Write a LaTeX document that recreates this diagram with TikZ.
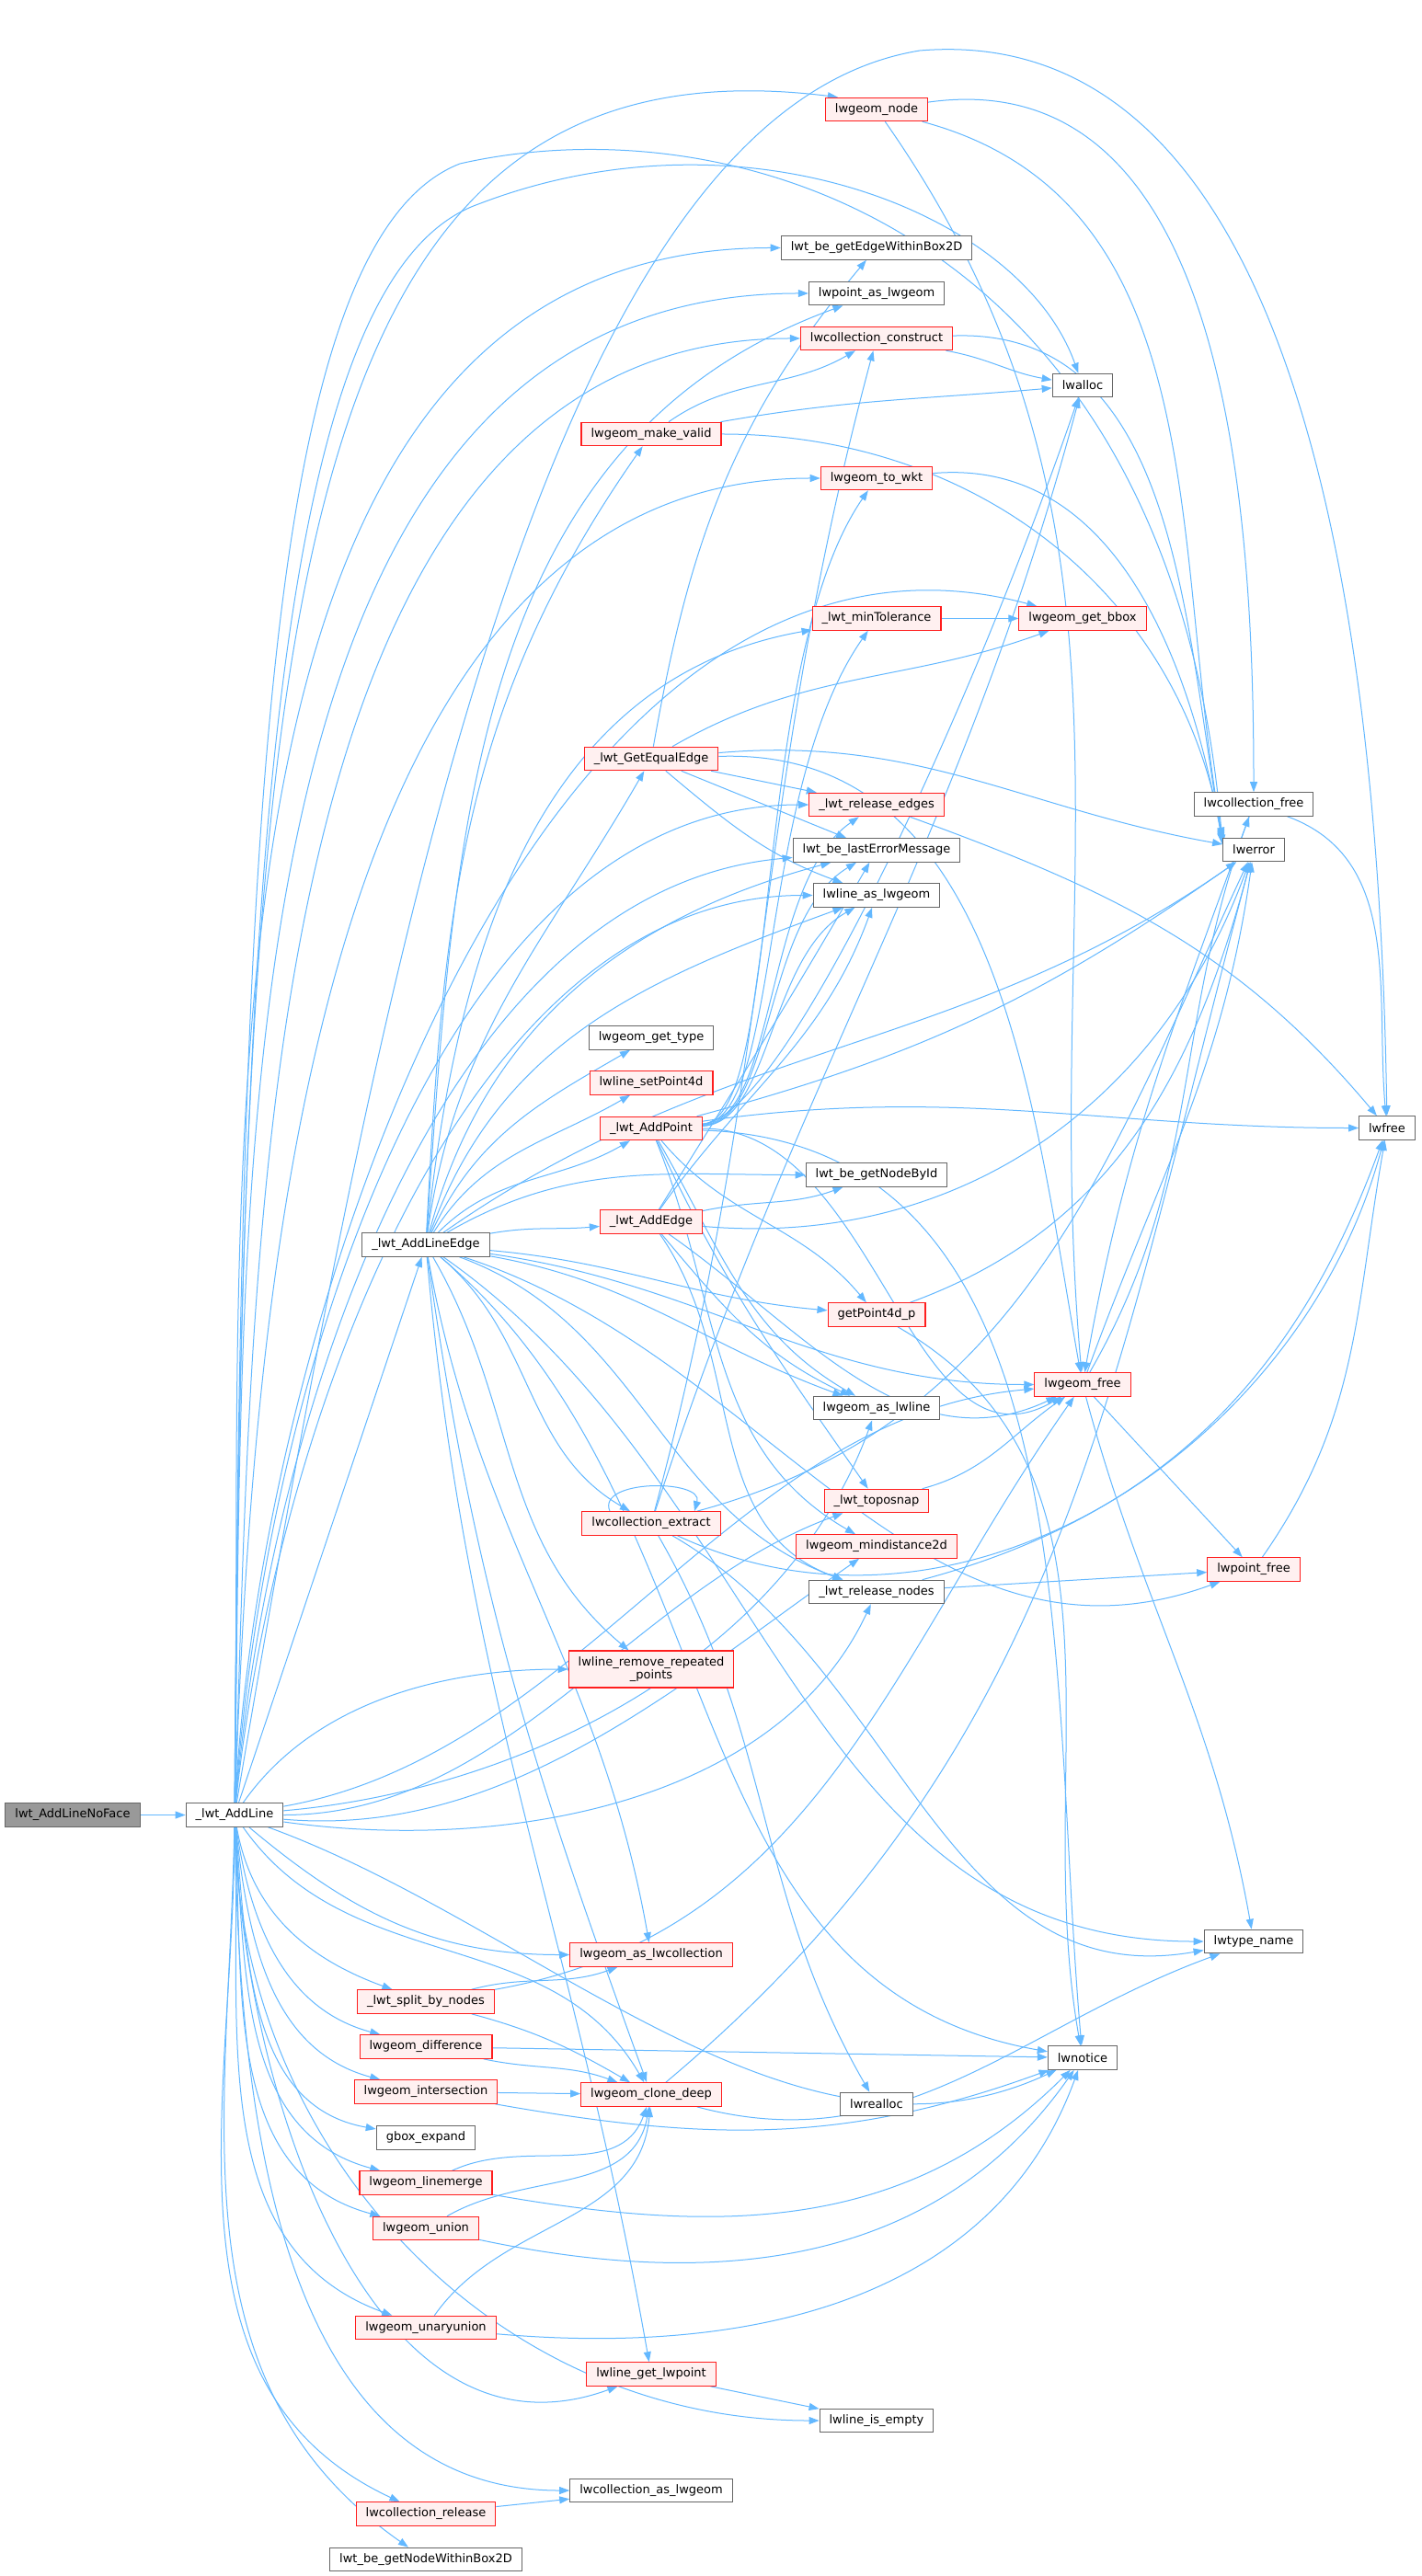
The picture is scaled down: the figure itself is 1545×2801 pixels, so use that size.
\documentclass[tikz,border=0pt]{standalone}
\usepackage{fontspec}
\setmainfont{DejaVu Sans}
\usetikzlibrary{arrows.meta}
\definecolor{ecol}{RGB}{99,184,255}
\definecolor{gborder}{RGB}{102,102,102}
\definecolor{rborder}{RGB}{255,30,30}
\definecolor{rfill}{RGB}{255,240,240}
\definecolor{rootfill}{RGB}{153,153,153}
\pgfdeclarelayer{bg}
\pgfsetlayers{bg,main}
\tikzset{
  nb/.style={draw=gborder, fill=white, line width=0.28pt, minimum height=6.375pt,
    inner xsep=2.625pt, inner ysep=0.5pt, font=\fontsize{3.25}{3.75}\selectfont},
  rb/.style={nb, draw=rborder, fill=rfill},
  rootb/.style={nb, fill=rootfill},
  e/.style={draw=ecol, line width=0.25pt, -{Triangle[length=2.75pt,width=2pt]}},
}
\begin{document}
\begin{tikzpicture}[x=0.25pt,y=-0.25pt]
\useasboundingbox (0,0) rectangle (1545,2801);
% ---------- nodes ----------
\node[rootb] (noface) at (79,1973.5) {lwt\_AddLineNoFace};
\node[nb] (A) at (255,1973.5) {\_lwt\_AddLine};
% rank 2
\node[nb] (E) at (463,1353.5) {\_lwt\_AddLineEdge};
\node[rb] (split) at (463,2176.5) {\_lwt\_split\_by\_nodes};
\node[rb] (diff) at (463,2225.5) {lwgeom\_difference};
\node[rb] (inter) at (463,2274.5) {lwgeom\_intersection};
\node[nb] (gbox) at (463,2324.5) {gbox\_expand};
\node[rb] (lmerge) at (463,2373.5) {lwgeom\_linemerge};
\node[rb] (union) at (463,2423) {lwgeom\_union};
\node[rb] (uunion) at (463,2531) {lwgeom\_unaryunion};
\node[rb] (crel) at (463,2733.5) {lwcollection\_release};
\node[nb] (gnwb) at (463,2783) {lwt\_be\_getNodeWithinBox2D};
% rank 3
\node[rb] (mkvalid) at (708,472) {lwgeom\_make\_valid};
\node[rb] (geqe) at (708,825) {\_lwt\_GetEqualEdge};
\node[nb] (gtype) at (708,1128.5) {lwgeom\_get\_type};
\node[rb] (setp4d) at (708,1177.5) {lwline\_setPoint4d};
\node[rb] (addpt) at (708,1227) {\_lwt\_AddPoint};
\node[rb] (addedge) at (708,1328.5) {\_lwt\_AddEdge};
\node[rb] (extract) at (708,1656.5) {lwcollection\_extract};
\node[rb, align=center, minimum height=10pt, font=\fontsize{3.25}{3.6}\selectfont] (rmrep) at (708,1815) {lwline\_remove\_repeated\\\_points};
\node[rb] (ascoll) at (708,2125.5) {lwgeom\_as\_lwcollection};
\node[rb] (clone) at (708,2277.5) {lwgeom\_clone\_deep};
\node[rb] (getlwpt) at (708,2581.5) {lwline\_get\_lwpoint};
\node[nb] (casgeom) at (708,2708) {lwcollection\_as\_lwgeom};
% rank 4
\node[rb] (gnode) at (953,119) {lwgeom\_node};
\node[nb] (gewb) at (953,269.5) {lwt\_be\_getEdgeWithinBox2D};
\node[nb] (ptas) at (953,319) {lwpoint\_as\_lwgeom};
\node[rb] (cconst) at (953,368) {lwcollection\_construct};
\node[rb] (towkt) at (953,520) {lwgeom\_to\_wkt};
\node[rb] (mintol) at (953,672.5) {\_lwt\_minTolerance};
\node[rb] (relE) at (953,875) {\_lwt\_release\_edges};
\node[nb] (lasterr) at (953,924.5) {lwt\_be\_lastErrorMessage};
\node[nb] (lineas) at (953,973.5) {lwline\_as\_lwgeom};
\node[nb] (gnbid) at (953,1277.5) {lwt\_be\_getNodeById};
\node[rb] (gp4d) at (953,1429.5) {getPoint4d\_p};
\node[nb] (aslwline) at (953,1531) {lwgeom\_as\_lwline};
\node[rb] (toposnap) at (953,1632) {\_lwt\_toposnap};
\node[rb] (mindist) at (953,1681.5) {lwgeom\_mindistance2d};
\node[nb] (relN) at (953,1731) {\_lwt\_release\_nodes};
\node[nb] (realloc) at (953,2288) {lwrealloc};
\node[nb] (isempty) at (953,2632) {lwline\_is\_empty};
% rank 5
\node[nb] (alloc) at (1177,419) {lwalloc};
\node[rb] (bbox) at (1177,672.5) {lwgeom\_get\_bbox};
\node[rb] (gfree) at (1177,1505.5) {lwgeom\_free};
\node[nb] (notice) at (1177,2237.5) {lwnotice};
% rank 6
\node[nb] (cfree) at (1363,874.5) {lwcollection\_free};
\node[nb] (err) at (1363,924) {lwerror};
\node[rb] (pfree) at (1363,1706.5) {lwpoint\_free};
\node[nb] (tname) at (1363,2111) {lwtype\_name};
% rank 7
\node[nb] (free) at (1508,1226.5) {lwfree};
% ---------- edges ----------
\begin{pgfonlayer}{bg}
\fill[white] (0,0) rectangle (1545,2801);
\draw[e] (noface) -- (A);
% _lwt_AddLine
\draw[e] (A) -- (E);
\draw[e] (A) .. controls (265,700) and (300,30) .. ([xshift=3.5pt]gnode.north west);
\draw[e] (A) .. controls (420,1000) and (600,120) .. (1000,55) .. controls (1420,20) and (1500,700) .. (free);
\draw[e] (A) .. controls (262,900) and (290,260) .. (500,178) .. controls (800,110) and (1275,250) .. ([yshift=-2pt]err.north west);
\draw[e] (A) .. controls (262,950) and (300,300) .. (520,222) .. controls (806,112) and (1110,230) .. (alloc);
\draw[e] (A) to[out=89,in=180,looseness=0.95] (gewb);
\draw[e] (A) to[out=89,in=180,looseness=0.95] (ptas);
\draw[e] (A) to[out=88,in=180,looseness=0.9] (cconst);
\draw[e] (A) to[out=88,in=180,looseness=0.9] (towkt);
\draw[e] (A) to[out=87,in=165,looseness=0.9] (bbox);
\draw[e] (A) to[out=86,in=180,looseness=0.85] (relE);
\draw[e] (A) to[out=85,in=185,looseness=0.85] (lasterr);
\draw[e] (A) to[out=84,in=180,looseness=0.85] (lineas);
\draw[e] (A) to[out=55,in=180,looseness=0.9] (rmrep);
\draw[e] (A) to[out=10,in=185,looseness=0.9] (gfree);
\draw[e] (A) to[out=5,in=250,looseness=0.9] (aslwline);
\draw[e] (A) to[out=0,in=200,looseness=0.9] (toposnap);
\draw[e] (A) to[out=-5,in=215,looseness=0.9] (mindist);
\draw[e] (A) to[out=-8,in=245,looseness=0.9] (relN);
\draw[e] (A) to[out=-20,in=205,looseness=0.9] (notice);
\draw[e] (A) to[out=-40,in=180] (ascoll);
\draw[e] (A) to[out=-55,in=120] (clone);
\draw[e] (A) to[out=-80,in=160] (split);
\draw[e] (A) to[out=-82,in=165] (diff);
\draw[e] (A) to[out=-84,in=165] (inter);
\draw[e] (A) to[out=-85,in=170] (gbox);
\draw[e] (A) to[out=-86,in=165] (lmerge);
\draw[e] (A) to[out=-87,in=165] (union);
\draw[e] (A) to[out=-88,in=160] (uunion);
\draw[e] (A) to[out=-88,in=200] (getlwpt);
\draw[e] (A) to[out=-89,in=180] (isempty);
\draw[e] (A) to[out=-89,in=180] (casgeom);
\draw[e] (A) to[out=-90,in=155] (crel);
\draw[e] (A) to[out=-91,in=145] (gnwb);
% _lwt_AddLineEdge
\draw[e] (E) to[out=87,in=235] (mkvalid);
\draw[e] (E) to[out=86,in=200] (ptas);
\draw[e] (E) to[out=84,in=190] (mintol);
\draw[e] (E) to[out=82,in=240] (geqe);
\draw[e] (E) to[out=75,in=195] (lasterr);
\draw[e] (E) to[out=70,in=200] (lineas);
\draw[e] (E) to[out=65,in=210] (gtype);
\draw[e] (E) to[out=58,in=210] (setp4d);
\draw[e] (E) to[out=45,in=210] (addpt);
\draw[e] (E) to[out=10,in=185] (addedge);
\draw[e] (E) to[out=30,in=180] (gnbid);
\draw[e] (E) to[out=35,in=215] (err);
\draw[e] (E) to[out=-5,in=175] (gp4d);
\draw[e] (E) to[out=-10,in=160] (aslwline);
\draw[e] (E) to[out=-8,in=180] (gfree);
\draw[e] (E) to[out=-40,in=150] (extract);
\draw[e] (E) to[out=-20,in=160] (relN);
\draw[e] (E) to[out=-18,in=200] (pfree);
\draw[e] (E) to[out=-60,in=140] (rmrep);
\draw[e] (E) to[out=-35,in=180] (tname);
\draw[e] (E) to[out=-40,in=170] (notice);
\draw[e] (E) to[out=-80,in=100] (ascoll);
\draw[e] (E) to[out=-82,in=110] (clone);
\draw[e] (E) to[out=-85,in=100] (getlwpt);
% lwgeom_make_valid
\draw[e] (mkvalid) to[out=35,in=210] (cconst);
\draw[e] (mkvalid) to[out=10,in=185] (alloc);
\draw[e] (mkvalid) to[out=0,in=100] ([yshift=-0.5pt]err.north west);
% lwcollection_construct, lwgeom_to_wkt
\draw[e] (cconst) to[out=-10,in=170] (alloc);
\draw[e] (cconst) to[out=2,in=100] ([yshift=-1pt]err.north west);
\draw[e] (towkt) to[out=5,in=100] ([yshift=-1.5pt]err.north west);
% lwgeom_node
\draw[e] (gnode) to[out=8,in=90] (cfree);
\draw[e] (gnode) to[out=-15,in=100] (err.north west);
\draw[e] (gnode) to[out=-55,in=95] (gfree);
% _lwt_minTolerance
\draw[e] (mintol) -- (bbox);
% _lwt_GetEqualEdge
\draw[e] (geqe) to[out=80,in=230] (gewb);
\draw[e] (geqe) to[out=30,in=200] (bbox);
\draw[e] (geqe) -- (relE);
\draw[e] (geqe) -- (lasterr);
\draw[e] (geqe) to[out=-40,in=160] (lineas);
\draw[e] (geqe) to[out=5,in=170] (err);
\draw[e] (geqe) to[out=2,in=100] (gfree);
% _lwt_release_edges
\draw[e] (relE) to[out=-20,in=130] (free);
% _lwt_AddPoint (upward bundle rises at the right of its column)
\draw[e] (addpt) .. controls (850,1216) and (822,860) .. (mintol);
\draw[e] (addpt) .. controls (852,1215) and (815,720) .. (towkt);
\draw[e] (addpt) .. controls (855,1214) and (1060,760) .. (alloc);
\draw[e] (addpt) .. controls (845,1218) and (830,960) .. (relE);
\draw[e] (addpt) .. controls (842,1220) and (828,1000) .. (lasterr);
\draw[e] (addpt) .. controls (838,1221) and (835,1040) .. (lineas);
\draw[e] (addpt) to[out=8,in=180] (free);
\draw[e] (addpt) to[out=15,in=215] (err);
\draw[e] (addpt) to[out=-50,in=130] (gp4d);
\draw[e] (addpt) to[out=-60,in=150] (aslwline);
\draw[e] (addpt) to[out=-65,in=125] (toposnap);
\draw[e] (addpt) to[out=-68,in=150] (mindist);
\draw[e] (addpt) to[out=0,in=210] (gfree);
\draw[e] (addpt) to[out=-2,in=95] (notice);
% _lwt_AddEdge
\draw[e] (addedge) to[out=55,in=250] (lineas);
\draw[e] (addedge) to[out=58,in=240] (lasterr);
\draw[e] (addedge) to[out=12,in=200] (gnbid);
\draw[e] (addedge) to[out=-5,in=250] (err);
\draw[e] (addedge) to[out=-50,in=155] (aslwline);
\draw[e] (addedge) to[out=-55,in=160] (relN);
\draw[e] (addedge) to[out=-35,in=205] (gfree);
% lwcollection_extract
\draw[e] ([xshift=-11.25pt]extract.north) .. controls +(-15,-35) and +(10,-35) .. ([xshift=11.75pt]extract.north);
\draw[e] (extract) to[out=75,in=255] (cconst);
\draw[e] (extract) to[out=72,in=255] (alloc);
\draw[e] (extract) to[out=-60,in=120] (realloc);
\draw[e] (extract) to[out=15,in=245] (err);
\draw[e] (extract) to[out=-30,in=190] (tname);
\draw[e] (extract) to[out=-25,in=255] (free);
% lwgeom_clone_deep
\draw[e] (clone) to[out=40,in=255] (err);
\draw[e] (clone) to[out=-15,in=200] (tname);
% lwline_get_lwpoint, lwcollection_release
\draw[e] (getlwpt) -- (isempty);
\draw[e] (crel) -- (casgeom);
% rank 2 red nodes
\draw[e] (split) to[out=15,in=200] (ascoll);
\draw[e] (split) to[out=-15,in=150] (clone);
\draw[e] (split) to[out=10,in=235] (gfree);
\draw[e] (diff) to[out=-12,in=160] (clone);
\draw[e] (diff) -- (notice);
\draw[e] (inter) -- (clone);
\draw[e] (inter) to[out=-10,in=200] (notice);
\draw[e] (lmerge) to[out=25,in=250] (clone);
\draw[e] (lmerge) to[out=-10,in=225] (notice);
\draw[e] (union) to[out=30,in=260] (clone);
\draw[e] (union) to[out=-12,in=235] (notice);
\draw[e] (uunion) to[out=55,in=265] (clone);
\draw[e] (uunion) to[out=-5,in=250] (notice);
% rank 4 nodes
\draw[e] (gp4d) to[out=20,in=255] (err);
\draw[e] (gp4d) to[out=-30,in=100] (notice);
\draw[e] (toposnap) to[out=15,in=215] (gfree);
\draw[e] (relN) to[out=15,in=250] (free);
\draw[e] (relN) -- (pfree);
% lwgeom_free, lwcollection_free, lwpoint_free
\draw[e] (gfree) to[out=60,in=250] (cfree);
\draw[e] (gfree) to[out=70,in=262] (err);
\draw[e] (gfree) -- (pfree);
\draw[e] (gfree) to[out=-75,in=100] (tname);
\draw[e] (cfree) to[out=-20,in=95] (free);
\draw[e] (cfree) to[out=-110,in=80] (gfree);
\draw[e] (pfree) to[out=55,in=260] (free);
\end{pgfonlayer}
\end{tikzpicture}
\end{document}
